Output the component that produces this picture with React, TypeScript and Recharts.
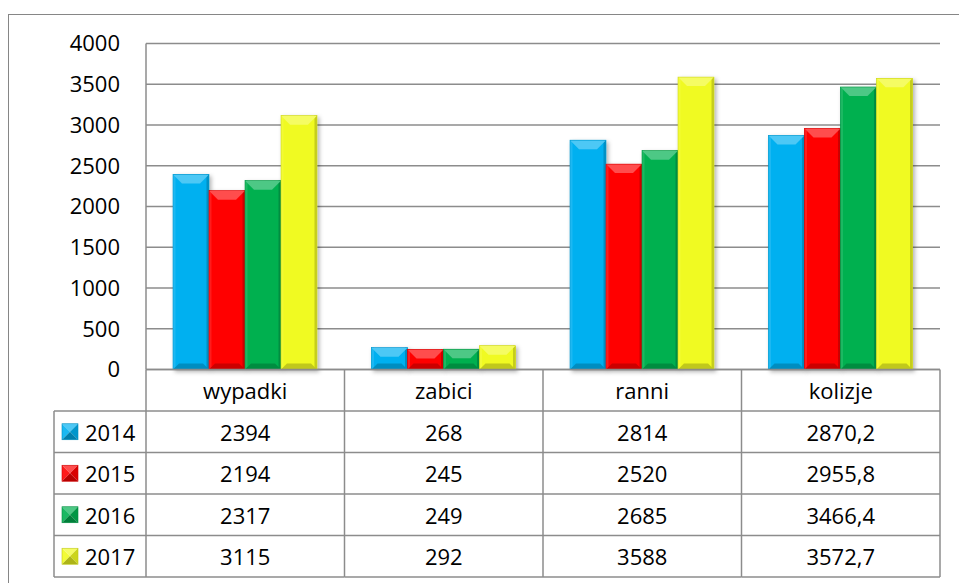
import React from 'react';
import { BarChart, Bar, XAxis, YAxis, CartesianGrid } from 'recharts';

const categories = ['wypadki', 'zabici', 'ranni', 'kolizje'];
const years = ['2014', '2015', '2016', '2017'];
const values2014 = [2394, 268, 2814, 2870.2];
const values2015 = [2194, 245, 2520, 2955.8];
const values2016 = [2317, 249, 2685, 3466.4];
const values2017 = [3115, 292, 3588, 3572.7];
const yTicks = [0, 500, 1000, 1500, 2000, 2500, 3000, 3500, 4000];

const seriesValues = [values2014, values2015, values2016, values2017];
const colors = ['#00B0F0', '#FF0000', '#00B050', '#F0FA20'];

const data = categories.map((c, i) => ({
  name: c,
  y2014: values2014[i],
  y2015: values2015[i],
  y2016: values2016[i],
  y2017: values2017[i],
}));

const W = 959;
const H = 583;
const PLOT_LEFT = 146;
const PLOT_RIGHT = 940;
const PLOT_TOP = 43.5;
const PLOT_BOTTOM = 369.5;
const BAND = (PLOT_RIGHT - PLOT_LEFT) / categories.length;
const ROW_H = 41.5;
const LEGEND_LEFT = 54;
const LINE = '#8c8c8c';
const FONT = '"Open Sans", sans-serif';
const FS = 22;

function mix(hex: string, target: number, t: number) {
  const n = parseInt(hex.slice(1), 16);
  const r = (n >> 16) & 255, g = (n >> 8) & 255, b = n & 255;
  const f = (c: number) => Math.round(c + (target - c) * t);
  return `rgb(${f(r)},${f(g)},${f(b)})`;
}

const BevelBar = (props: any) => {
  const { x, y, width: w, height: h, fill } = props;
  if (!h || h <= 0) return null;
  const bt = Math.min(9, h / 2);
  const bb = Math.min(6, h / 2);
  const s = 2.5;
  return (
    <g filter="url(#barShadow)">
      <rect x={x} y={y} width={w} height={h} fill={fill} />
      <polygon points={`${x},${y} ${x + s},${y} ${x + s},${y + h} ${x},${y + h}`} fill={mix(fill, 255, 0.1)} />
      <polygon points={`${x + w - s},${y} ${x + w},${y} ${x + w},${y + h} ${x + w - s},${y + h}`} fill={mix(fill, 0, 0.18)} />
      <polygon points={`${x},${y} ${x + w},${y} ${x + w - bt},${y + bt} ${x + bt},${y + bt}`} fill={mix(fill, 255, 0.3)} />
      <polygon points={`${x},${y + h} ${x + w},${y + h} ${x + w - bb},${y + h - bb} ${x + bb},${y + h - bb}`} fill={mix(fill, 0, 0.2)} />
      <rect x={x} y={y} width={w} height={h} fill="none" stroke={mix(fill, 0, 0.15)} strokeWidth={0.6} />
    </g>
  );
};

const LegendKey = ({ x, y, color }: { x: number; y: number; color: string }) => {
  const k = 16;
  const cx = x + k / 2, cy = y + k / 2;
  return (
    <g>
      <polygon points={`${x},${y} ${x + k},${y} ${cx},${cy}`} fill={mix(color, 255, 0.3)} />
      <polygon points={`${x},${y} ${x},${y + k} ${cx},${cy}`} fill={mix(color, 255, 0.1)} />
      <polygon points={`${x + k},${y} ${x + k},${y + k} ${cx},${cy}`} fill={mix(color, 0, 0.15)} />
      <polygon points={`${x},${y + k} ${x + k},${y + k} ${cx},${cy}`} fill={mix(color, 0, 0.28)} />
      <rect x={x} y={y} width={k} height={k} fill="none" stroke={mix(color, 0, 0.2)} strokeWidth={0.6} />
    </g>
  );
};

function fmt(v: number) {
  return String(v).replace('.', ',');
}

const TableTick = (props: any) => {
  const { x, y, payload } = props;
  const ci = categories.indexOf(payload.value);
  const left = x - BAND / 2;
  const right = x + BAND / 2;
  const bottom = y + ROW_H * (years.length + 1);
  const els: React.ReactNode[] = [];
  els.push(<line key="vr" x1={right} y1={y} x2={right} y2={bottom} stroke={LINE} strokeWidth={1.5} />);
  for (let k = 1; k <= years.length + 1; k++) {
    els.push(<line key={'h' + k} x1={left} y1={y + ROW_H * k} x2={right} y2={y + ROW_H * k} stroke={LINE} strokeWidth={1.5} />);
  }
  els.push(
    <text key="cat" x={x} y={y + ROW_H / 2} textAnchor="middle" dominantBaseline="central" fontFamily={FONT} fontSize={FS} fill="#000">
      {payload.value}
    </text>
  );
  seriesValues.forEach((vals, si) => {
    els.push(
      <text key={'v' + si} x={x} y={y + ROW_H * (si + 1.5)} textAnchor="middle" dominantBaseline="central" fontFamily={FONT} fontSize={FS} fill="#000">
        {fmt(vals[ci])}
      </text>
    );
  });
  if (ci === 0) {
    els.push(<line key="vl" x1={left} y1={y} x2={left} y2={bottom} stroke={LINE} strokeWidth={1.5} />);
    els.push(<line key="vll" x1={LEGEND_LEFT} y1={y + ROW_H} x2={LEGEND_LEFT} y2={bottom} stroke={LINE} strokeWidth={1.5} />);
    for (let k = 1; k <= years.length + 1; k++) {
      els.push(<line key={'lh' + k} x1={LEGEND_LEFT} y1={y + ROW_H * k} x2={left} y2={y + ROW_H * k} stroke={LINE} strokeWidth={1.5} />);
    }
    years.forEach((yr, si) => {
      const cy = y + ROW_H * (si + 1.5);
      els.push(<LegendKey key={'k' + si} x={LEGEND_LEFT + 8} y={cy - 8} color={colors[si]} />);
      els.push(
        <text key={'l' + si} x={LEGEND_LEFT + 31} y={cy} dominantBaseline="central" fontFamily={FONT} fontSize={FS} fill="#000">
          {yr}
        </text>
      );
    });
  }
  return <g>{els}</g>;
};

export default function App() {
  return (
    <div style={{ position: 'absolute', left: 0, top: 0, width: W, height: H, overflow: 'hidden', background: '#fff' }}>
      <div
        style={{
          position: 'absolute',
          left: 8,
          top: 14,
          width: W,
          height: H,
          borderTop: '1.5px solid #868686',
          borderLeft: '1.5px solid #868686',
        }}
      />
      <div style={{ position: 'absolute', left: 0, top: 0 }}>
        <BarChart
          width={W}
          height={H}
          data={data}
          margin={{ top: PLOT_TOP, right: W - PLOT_RIGHT, left: 0, bottom: 0 }}
          barCategoryGap={27}
          barGap={0}
        >
          <defs>
            <filter id="barShadow" x="-20%" y="-20%" width="150%" height="150%">
              <feDropShadow dx="2" dy="2" stdDeviation="2" floodColor="#000" floodOpacity="0.3" />
            </filter>
          </defs>
          <CartesianGrid horizontal vertical={false} stroke={LINE} strokeWidth={1.3} />
          <YAxis
            width={PLOT_LEFT}
            domain={[0, 4000]}
            ticks={yTicks}
            interval={0}
            tickLine={false}
            tickSize={0}
            tickMargin={26}
            axisLine={{ stroke: LINE, strokeWidth: 1.5 }}
            tick={{ fontFamily: FONT, fontSize: FS, fill: '#000' }}
          />
          <XAxis
            dataKey="name"
            height={H - PLOT_BOTTOM}
            interval={0}
            tickLine={false}
            tickSize={0}
            tickMargin={0}
            axisLine={{ stroke: LINE, strokeWidth: 1.5 }}
            tick={<TableTick />}
          />
          {years.map((yr, i) => (
            <Bar key={yr} dataKey={'y' + yr} fill={colors[i]} isAnimationActive={false} shape={<BevelBar />} />
          ))}
        </BarChart>
      </div>
    </div>
  );
}
